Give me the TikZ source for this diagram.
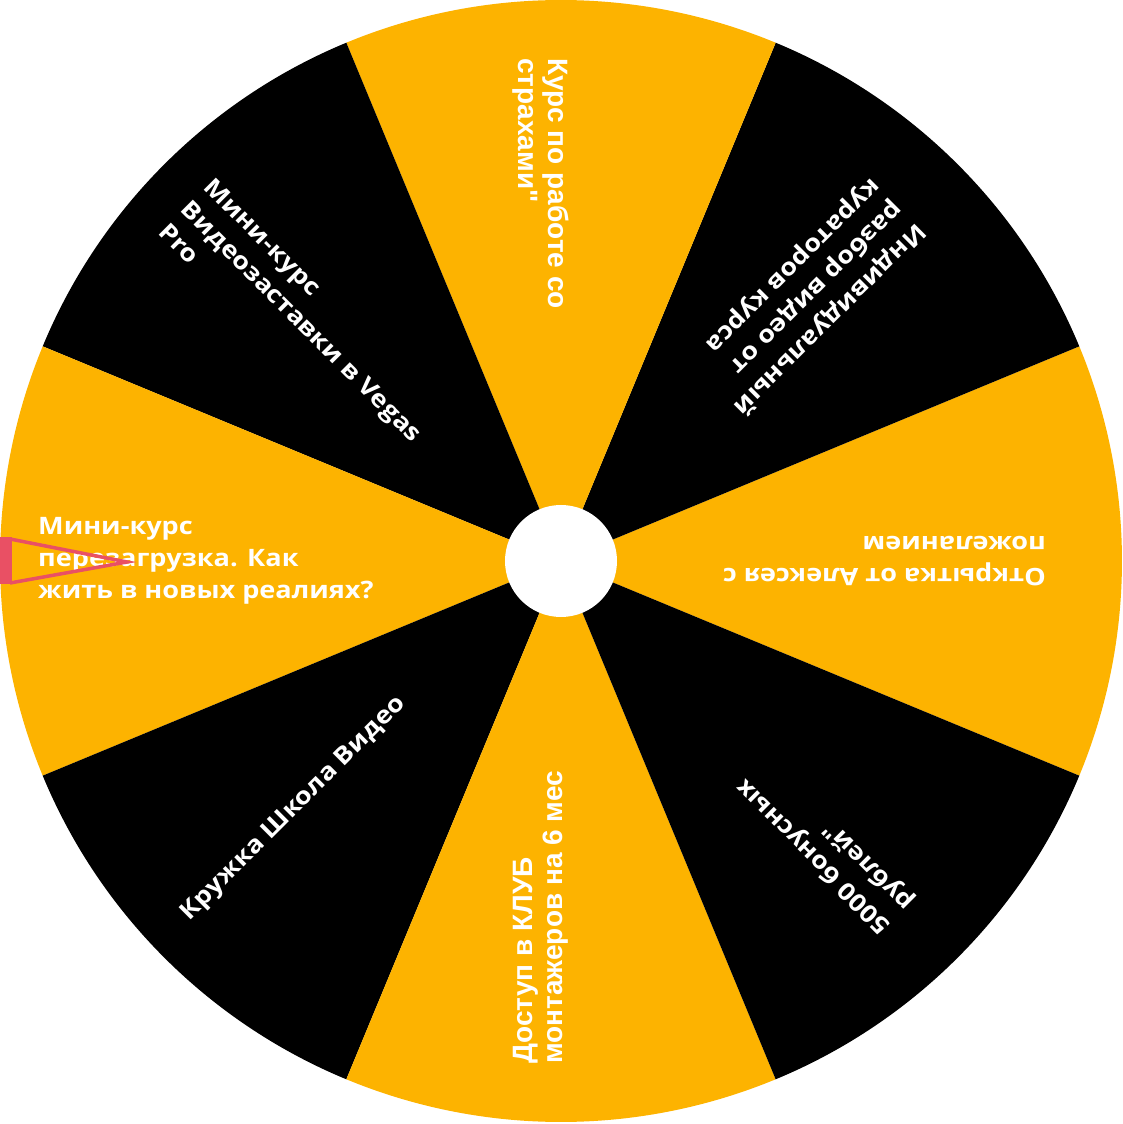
\documentclass[tikz,border=0pt]{standalone}
\usepackage{fontspec}
\newfontfamily\mfont[FakeStretch=1.13]{Open Sans}
\newfontfamily\afont{Liberation Sans}
\definecolor{wy}{RGB}{253,179,0}
\definecolor{wb}{RGB}{0,0,0}
\definecolor{ptr}{RGB}{233,80,100}
\tikzset{
  seglabel/.style={text=white, inner sep=0pt, anchor=west, align=left,
    font=\mfont\bfseries\fontsize{24}{32}\selectfont},
  arlabel/.style={text=white, inner sep=0pt, anchor=west, align=left,
    font=\afont\bfseries\fontsize{28}{30}\selectfont},
}
\begin{document}
\begin{tikzpicture}[x=1pt,y=1pt]
\useasboundingbox (-561,-563) rectangle (562,561);
\foreach \a/\c in {0/wy,45/wb,90/wy,135/wb,180/wy,225/wb,270/wy,315/wb}{
  \fill[\c] (0,0) -- (\a-22.5:561) arc[start angle=\a-22.5, end angle=\a+22.5, radius=561] -- cycle;
}
\fill[white] (0,0) circle (56);
\node[arlabel, rotate=270] (l90) at ([xshift=-20pt]90:503) {Курс по работе со\\страхами"};
\node[seglabel, rotate=225] (l45) at ([xshift=-19pt]45:504) {Индивидуальный\\разбор видео от\\кураторов курса};
\node[seglabel, rotate=180] (l0) at ([xshift=-19pt]0:504) {Открытка от Алексея с\\пожеланием};
\node[seglabel, rotate=135] (l315) at ([xshift=-19pt]315:504) {5000 бонусных\\рублей"};
\node[arlabel, rotate=90] (l270) at ([xshift=-20pt]270:503) {Доступ в КЛУБ\\монтажеров на 6 мес};
\node[seglabel, rotate=45] (l225) at ([xshift=-19pt]225:504) {Кружка Школа Видео};
\node[seglabel, rotate=0] (l180) at ([xshift=-19pt]180:504) {Мини-курс\\перезагрузка. Как\\жить в новых реалиях?};
\node[seglabel, rotate=-45] (l135) at ([xshift=-19pt]135:504) {Мини-курс\\Видеозаставки в Vegas\\Pro};
% pointer
\coordinate (pa) at (-551,22);
\coordinate (pt) at (-434,-1);
\coordinate (pb) at (-551,-22);
\fill[ptr] (-561,23.5) rectangle (-549,-23.5);
\draw[ptr, line width=3.5pt, line join=miter] (pa) -- (pt) -- (pb);
\end{tikzpicture}
\end{document}
